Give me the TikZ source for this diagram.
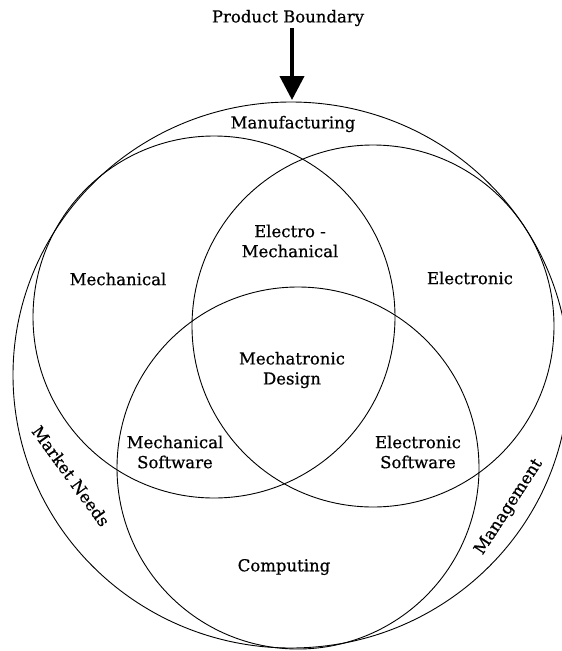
\documentclass[tikz,border=0pt]{standalone}
\usepackage{fontspec}
\setmainfont{DejaVu Serif}[BoldFont={DejaVu Serif}, BoldFeatures={FakeBold=0.6}]
\usetikzlibrary{arrows.meta}
\begin{document}
\begin{tikzpicture}[x=1pt,y=-1pt,
  ring/.style={draw, line width=0.9pt},
  lbl/.style={font=\fontsize{16.5}{20}\selectfont\bfseries, align=center, inner sep=1.5pt},
  bigarrow/.style={line width=4pt, -{Triangle[width=24pt,length=24pt]}}
]
\useasboundingbox (0,0) rectangle (562,651);
\clip (0,0) rectangle (562,651);
% circles
\draw[ring] (291,375) ellipse [x radius=278, y radius=273];
\draw[ring] (214,317) circle [radius=181];
\draw[ring] (373,326) circle [radius=181];
\draw[ring] (298,468) circle [radius=181];
% labels
\node[lbl] (pb) at (288,18) {Product Boundary};
\coordinate (tip) at (292,100);
\draw[bigarrow] (pb.south -| tip) -- (tip);
\node[lbl] (mfg) at (293,124) {Manufacturing};
\node[lbl] (mech) at (118,279) {Mechanical};
\node[lbl] (elec) at (470,278) {Electronic};
\node[lbl] (em) at (290,241) {Electro -\\Mechanical};
\node[lbl] (md) at (292,370) {Mechatronic\\Design};
\node[lbl] (ms) at (175,452) {Mechanical\\Software};
\node[lbl] (es) at (418,452) {Electronic\\Software};
\node[lbl] (comp) at (284,567) {Computing};
\node[lbl, rotate=-54] (mn) at (71,476) {Market Needs};
\node[lbl, rotate=57] (mgmt) at (509,507) {Management};
\end{tikzpicture}
\end{document}
